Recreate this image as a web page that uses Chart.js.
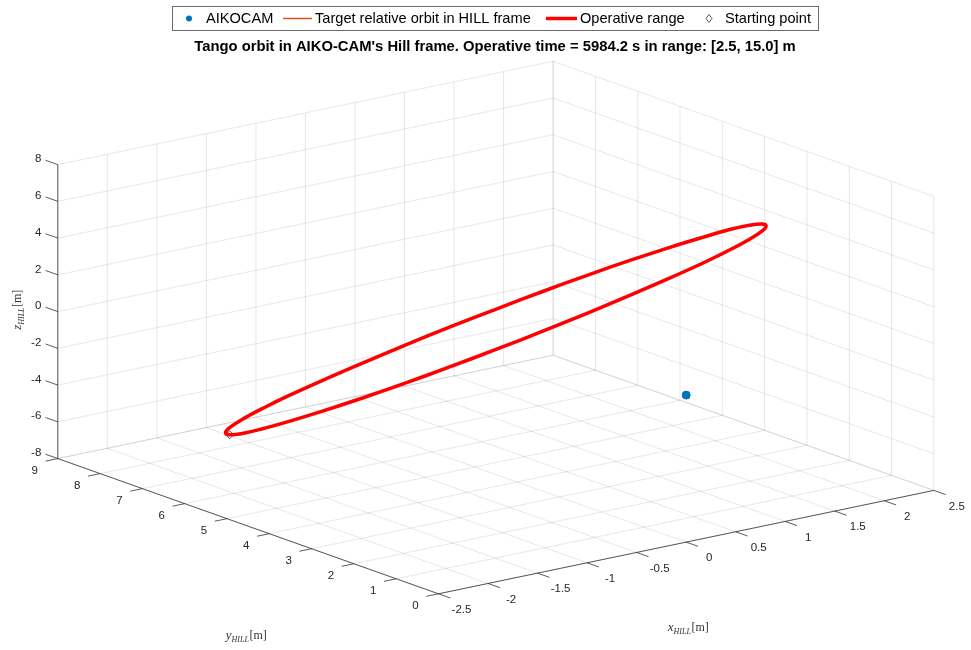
<!DOCTYPE html>
<html>
<head>
<meta charset="utf-8">
<title>Tango orbit in AIKO-CAM's Hill frame</title>
<script src="https://cdn.jsdelivr.net/npm/chart.js@4.4.1/dist/chart.umd.min.js"></script>
<style>
  html, body { margin: 0; padding: 0; background: #fff; }
  #wrap { width: 971px; height: 650px; }
</style>
</head>
<body>
<div id="wrap"><canvas id="orbitChart" width="971" height="650"></canvas></div>
<script>
// axis ticks of the Hill frame box (metres)
var xTicks = [-2.5, -2, -1.5, -1, -0.5, 0, 0.5, 1, 1.5, 2, 2.5];
var yTicks = [0, 1, 2, 3, 4, 5, 6, 7, 8, 9];
var zTicks = [-8, -6, -4, -2, 0, 2, 4, 6, 8];

// Tango relative orbit (one revolution)
var orbitX = [1.35, 1.60, 1.80, 1.95, 2.04, 2.07, 2.04, 1.94, 1.79, 1.58, 1.32, 1.02,
              0.69, 0.34, -0.02, -0.38, -0.73, -1.05, -1.35, -1.60, -1.80, -1.95, -2.04, -2.07,
              -2.04, -1.94, -1.79, -1.58, -1.32, -1.02, -0.69, -0.34, 0.02, 0.38, 0.73, 1.05, 1.35];
var orbitY = [7.65, 7.14, 6.54, 5.88, 5.18, 4.46, 3.75, 3.05, 2.40, 1.81, 1.30, 0.89,
              0.59, 0.41, 0.36, 0.43, 0.62, 0.93, 1.35, 1.86, 2.46, 3.12, 3.82, 4.54,
              5.26, 5.95, 6.60, 7.19, 7.70, 8.11, 8.41, 8.59, 8.64, 8.57, 8.38, 8.07, 7.65];
var orbitZ = [-3.09, -2.00, -0.84, 0.34, 1.50, 2.61, 3.65, 4.57, 5.34, 5.95, 6.38, 6.61,
              6.64, 6.46, 6.08, 5.52, 4.78, 3.90, 2.89, 1.80, 0.64, -0.54, -1.70, -2.81,
              -3.85, -4.77, -5.54, -6.15, -6.58, -6.81, -6.84, -6.66, -6.28, -5.72, -4.98, -4.10, -3.09];

var aikocam = [0, 0, 0];
var startPoint = [-1.79, 6.60, -5.54];

// camera: screen step per metre along x, y, z from the box's low corner
var view = { ox: 438, oy: 598, ex: [100.1, -21.0], ey: [-42.74, -15.26], ez: [0, -18.66] };

var xMin = xTicks[0], xMax = xTicks[xTicks.length - 1];
var yMin = yTicks[0], yMax = yTicks[yTicks.length - 1];
var zMin = zTicks[0], zMax = zTicks[zTicks.length - 1];

function project(x, y, z) {
  var u = x - xMin, v = y - yMin, w = z - zMin;
  return {
    x: view.ox + u * view.ex[0] + v * view.ey[0] + w * view.ez[0],
    y: view.oy + u * view.ex[1] + v * view.ey[1] + w * view.ez[1]
  };
}

function addSeg(arr, a, b) {
  arr.push(project(a[0], a[1], a[2]), project(b[0], b[1], b[2]), { x: NaN, y: NaN });
}

// grid on the back walls and the floor
var gridPts = [];
xTicks.forEach(function (x) { addSeg(gridPts, [x, yMax, zMin], [x, yMax, zMax]); });
zTicks.forEach(function (z) { addSeg(gridPts, [xMin, yMax, z], [xMax, yMax, z]); });
yTicks.forEach(function (y) { addSeg(gridPts, [xMax, y, zMin], [xMax, y, zMax]); });
zTicks.forEach(function (z) { addSeg(gridPts, [xMax, yMin, z], [xMax, yMax, z]); });
xTicks.forEach(function (x) { addSeg(gridPts, [x, yMin, zMin], [x, yMax, zMin]); });
yTicks.forEach(function (y) { addSeg(gridPts, [xMin, y, zMin], [xMax, y, zMin]); });

// axis lines + tick marks
var axisPts = [];
addSeg(axisPts, [xMin, yMax, zMin], [xMin, yMax, zMax]);
addSeg(axisPts, [xMin, yMin, zMin], [xMin, yMax, zMin]);
addSeg(axisPts, [xMin, yMin, zMin], [xMax, yMin, zMin]);
zTicks.forEach(function (z) { addSeg(axisPts, [xMin, yMax, z], [xMin, yMax + 0.29, z]); });
yTicks.forEach(function (y) { addSeg(axisPts, [xMin, y, zMin], [xMin - 0.123, y, zMin]); });
xTicks.forEach(function (x) { addSeg(axisPts, [x, yMin, zMin], [x, yMin - 0.28, zMin]); });

var orbitPts = orbitX.map(function (x, i) { return project(x, orbitY[i], orbitZ[i]); });

var FONT = "'Liberation Sans', Arial, Helvetica, sans-serif";
var SERIF = "'Liberation Serif', 'DejaVu Serif', serif";

function mathLabel(ctx, letter, cx, cy, angle) {
  ctx.save();
  ctx.translate(cx, cy);
  ctx.rotate(angle);
  ctx.fillStyle = '#333';
  ctx.textBaseline = 'alphabetic';
  ctx.textAlign = 'left';
  var f1 = 'italic 13px ' + SERIF, f2 = 'italic 8px ' + SERIF, f3 = '12px ' + SERIF;
  ctx.font = f1; var w1 = ctx.measureText(letter).width;
  ctx.font = f2; var w2 = ctx.measureText('HILL').width;
  ctx.font = f3; var w3 = ctx.measureText('[m]').width;
  var x0 = -(w1 + w2 + w3) / 2;
  ctx.font = f1; ctx.fillText(letter, x0, 3);
  ctx.font = f2; ctx.fillText('HILL', x0 + w1, 6);
  ctx.font = f3; ctx.fillText('[m]', x0 + w1 + w2 + 0.5, 3);
  ctx.restore();
}

var labelsPlugin = {
  id: 'hillLabels',
  afterDatasetsDraw: function (chart) {
    var ctx = chart.ctx, sx = chart.scales.x, sy = chart.scales.y;
    function px(p) { return { x: sx.getPixelForValue(p.x), y: sy.getPixelForValue(p.y) }; }
    ctx.save();
    ctx.fillStyle = '#262626';
    ctx.font = '11.5px ' + FONT;
    ctx.textBaseline = 'middle';
    ctx.textAlign = 'right';
    zTicks.forEach(function (z) {
      var p = px(project(xMin, yMax, z));
      ctx.fillText(String(z), p.x - 16.5, p.y - 5.5);
    });
    ctx.textAlign = 'center';
    yTicks.forEach(function (y) {
      var p = px(project(xMin, y, zMin));
      ctx.fillText(String(y), p.x - 23, p.y + 12);
    });
    xTicks.forEach(function (x) {
      var p = px(project(x, yMin, zMin));
      ctx.fillText(String(x), p.x + 23, p.y + 16);
    });
    ctx.restore();

    mathLabel(ctx, 'z', 18, 310, -Math.PI / 2);
    mathLabel(ctx, 'y', 246, 636, 0);
    mathLabel(ctx, 'x', 688, 628, 0);
  },
  afterDraw: function (chart) {
    var ctx = chart.ctx;
    ctx.save();
    // title
    ctx.fillStyle = '#000';
    ctx.font = 'bold 14.8px ' + FONT;
    ctx.textAlign = 'center';
    ctx.textBaseline = 'middle';
    ctx.fillText("Tango orbit in AIKO-CAM's Hill frame. Operative time = 5984.2 s in range: [2.5, 15.0] m", 495, 47);

    // legend box
    ctx.fillStyle = '#fff';
    ctx.fillRect(172, 6.5, 647, 24);
    ctx.strokeStyle = '#6b6b6b';
    ctx.lineWidth = 1;
    ctx.strokeRect(172.5, 6.5, 646, 24);
    var cy = 18.5;
    ctx.font = '14.6px ' + FONT;
    ctx.textAlign = 'left';
    ctx.fillStyle = '#000';
    ctx.fillText('AIKOCAM', 206, cy);
    ctx.fillText('Target relative orbit in HILL frame', 315, cy);
    ctx.fillText('Operative range', 580, cy);
    ctx.fillText('Starting point', 725, cy);

    ctx.fillStyle = '#0072BD';
    ctx.beginPath(); ctx.arc(189, cy, 3, 0, Math.PI * 2); ctx.fill();
    ctx.strokeStyle = '#D95319'; ctx.lineWidth = 1.5;
    ctx.beginPath(); ctx.moveTo(283, cy); ctx.lineTo(312, cy); ctx.stroke();
    ctx.strokeStyle = '#FF0000'; ctx.lineWidth = 3.5;
    ctx.beginPath(); ctx.moveTo(546, cy); ctx.lineTo(577, cy); ctx.stroke();
    ctx.strokeStyle = '#333'; ctx.lineWidth = 0.8;
    ctx.beginPath();
    ctx.moveTo(709, cy - 4); ctx.lineTo(712, cy); ctx.lineTo(709, cy + 4); ctx.lineTo(706, cy); ctx.closePath();
    ctx.stroke();
    ctx.restore();
  }
};

var ctx = document.getElementById('orbitChart').getContext('2d');
var orbitChart = new Chart(ctx, {
  type: 'scatter',
  data: {
    datasets: [
      {
        label: 'grid',
        data: gridPts,
        showLine: true,
        borderColor: 'rgba(38, 38, 38, 0.11)',
        borderWidth: 1,
        pointRadius: 0,
        spanGaps: false,
        order: 6
      },
      {
        label: 'axes',
        data: axisPts,
        showLine: true,
        borderColor: 'rgba(38, 38, 38, 0.75)',
        borderWidth: 1,
        pointRadius: 0,
        spanGaps: false,
        order: 5
      },
      {
        label: 'Starting point',
        data: [project(startPoint[0], startPoint[1], startPoint[2])],
        pointStyle: 'rectRot',
        pointRadius: 4,
        backgroundColor: '#fff',
        borderColor: '#333',
        borderWidth: 0.8,
        order: 3
      },
      {
        label: 'Target relative orbit in HILL frame',
        data: orbitPts,
        showLine: true,
        borderColor: '#D95319',
        borderWidth: 1.5,
        pointRadius: 0,
        tension: 0.4,
        order: 2
      },
      {
        label: 'Operative range',
        data: orbitPts,
        showLine: true,
        borderColor: '#FF0000',
        borderWidth: 3.5,
        pointRadius: 0,
        tension: 0.4,
        order: 1
      },
      {
        label: 'AIKOCAM',
        data: [project(aikocam[0], aikocam[1], aikocam[2])],
        pointRadius: 4,
        backgroundColor: '#0072BD',
        borderColor: '#0072BD',
        order: 0
      }
    ]
  },
  options: {
    responsive: false,
    animation: false,
    devicePixelRatio: 1,
    events: [],
    clip: false,
    layout: { padding: 0 },
    plugins: {
      legend: { display: false },
      tooltip: { enabled: false }
    },
    scales: {
      x: { type: 'linear', min: 0, max: 971, display: false },
      y: { type: 'linear', min: 0, max: 650, reverse: true, display: false }
    }
  },
  plugins: [labelsPlugin]
});
</script>
</body>
</html>
